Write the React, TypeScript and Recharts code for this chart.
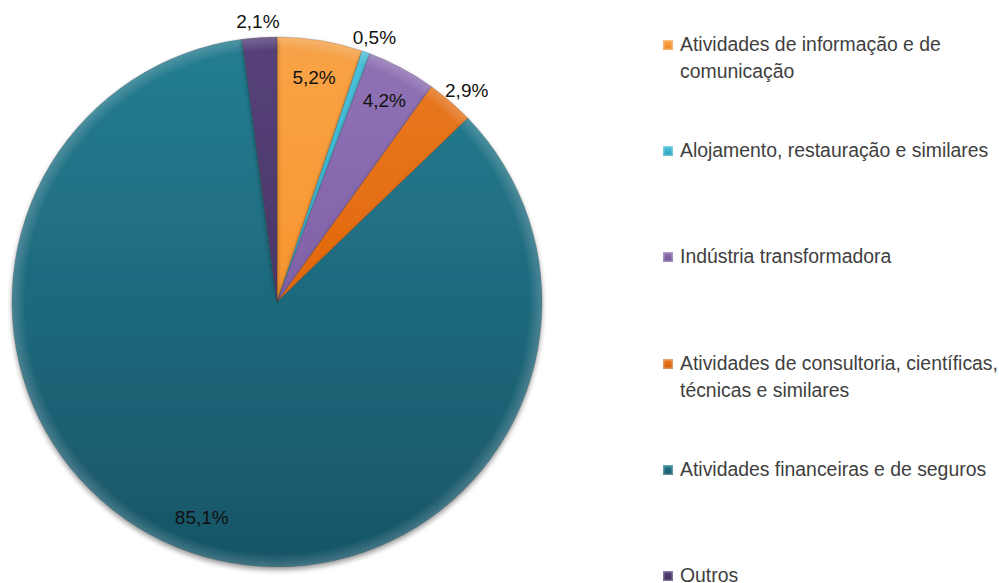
import React from "react";
import { PieChart, Pie, Cell, Legend, Sector } from "recharts";

const categories = [
  "Atividades de informação e de comunicação",
  "Alojamento, restauração e similares",
  "Indústria transformadora",
  "Atividades de consultoria, científicas, técnicas e similares",
  "Atividades financeiras e de seguros",
  "Outros",
];
const values = [5.2, 0.5, 4.2, 2.9, 85.1, 2.1];
const legendLines = [
  ["Atividades de informação e de", "comunicação"],
  ["Alojamento, restauração e similares"],
  ["Indústria transformadora"],
  ["Atividades de consultoria, científicas,", "técnicas e similares"],
  ["Atividades financeiras e de seguros"],
  ["Outros"],
];
const colors = ["#F7962F", "#35B3CF", "#8262A9", "#E2690D", "#1F6B7F", "#4B3769"];
const topColors = ["#F9A448", "#4CC2DC", "#9073B6", "#EA7A22", "#257E92", "#56427A"];
const bottomColors = ["#EE8A22", "#2A9FB9", "#735799", "#D35F08", "#185567", "#402E5C"];

const data = categories.map((name, i) => ({ name, value: values[i], idx: i }));

const FONT = "'Liberation Sans', Arial, sans-serif";
const RAD = Math.PI / 180;

const renderLabel = (props: any) => {
  const { cx, cy, midAngle, outerRadius, value } = props;
  const inside = value >= 3.5;
  const r = inside ? outerRadius - 37 : outerRadius + 19;
  const bias = inside ? 0 : 6;
  const x = cx + r * Math.cos(-midAngle * RAD) + bias * Math.cos(-midAngle * RAD);
  const y = cy + r * Math.sin(-midAngle * RAD) + (inside ? 0 : 3);
  return (
    <text x={x} y={y} textAnchor="middle" dominantBaseline="central" fill="#111" fontSize={19} fontFamily={FONT}>
      {String(value).replace(".", ",")}%
    </text>
  );
};

const renderShape = (props: any) => {
  const i = props.payload?.idx ?? props.idx ?? 0;
  return (
    <g>
      <Sector {...props} fill={`url(#lg${i})`} />
      <Sector {...props} fill="url(#rim)" stroke="none" />
    </g>
  );
};

const renderLegend = () => (
  <div style={{ position: "absolute", left: 0, top: 0, width: 340 }}>
    {legendLines.map((lines, i) => (
      <div key={i} style={{ position: "absolute", left: 0, top: i * 106.2, fontFamily: FONT, fontSize: 19.4, lineHeight: "27px", color: "#404040", whiteSpace: "nowrap" }}>
        <span style={{ position: "absolute", left: 0, top: 9, width: 10, height: 10, background: `linear-gradient(${topColors[i]}, ${bottomColors[i]})`, boxShadow: `inset 0 0 0 1.5px rgba(255,255,255,0.3)` }} />
        {lines.map((l, j) => (
          <div key={j} style={{ marginLeft: 17 }}>{l}</div>
        ))}
      </div>
    ))}
  </div>
);

export default function App() {
  return (
    <div style={{ position: "absolute", left: 0, top: 0, width: 999, height: 583, background: "#fff" }}>
      <PieChart width={999} height={583} margin={{ top: 0, right: 0, bottom: 0, left: 0 }}>
        <defs>
          {colors.map((c, i) => (
            <linearGradient key={i} id={`lg${i}`} x1={0} y1={37} x2={0} y2={567} gradientUnits="userSpaceOnUse">
              <stop offset="0%" stopColor={topColors[i]} />
              <stop offset="45%" stopColor={c} />
              <stop offset="100%" stopColor={bottomColors[i]} />
            </linearGradient>
          ))}
          <radialGradient id="rim" cx={277} cy={302} r={265} gradientUnits="userSpaceOnUse">
            <stop offset="0%" stopColor="#fff" stopOpacity={0} />
            <stop offset="95%" stopColor="#fff" stopOpacity={0} />
            <stop offset="100%" stopColor="#fff" stopOpacity={0.18} />
          </radialGradient>
          <filter id="sh" x="-10%" y="-10%" width="120%" height="120%">
            <feDropShadow dx="0" dy="3" stdDeviation="2.5" floodColor="#000" floodOpacity="0.35" />
          </filter>
        </defs>
        <Pie
          data={data}
          dataKey="value"
          nameKey="name"
          cx={277}
          cy={302}
          outerRadius={265}
          startAngle={90}
          endAngle={-270}
          stroke="#2a2a2a"
          strokeOpacity={0.3}
          strokeWidth={0.8}
          label={renderLabel}
          labelLine={false}
          shape={renderShape}
          isAnimationActive={false}
          style={{ filter: "url(#sh)" }}
        >
          {data.map((d, i) => (
            <Cell key={d.name} fill={colors[i]} />
          ))}
        </Pie>
        <Legend
          layout="vertical"
          verticalAlign="top"
          align="right"
          content={renderLegend}
          wrapperStyle={{ position: "absolute", left: 663, top: 31, width: 340 }}
        />
      </PieChart>
    </div>
  );
}
